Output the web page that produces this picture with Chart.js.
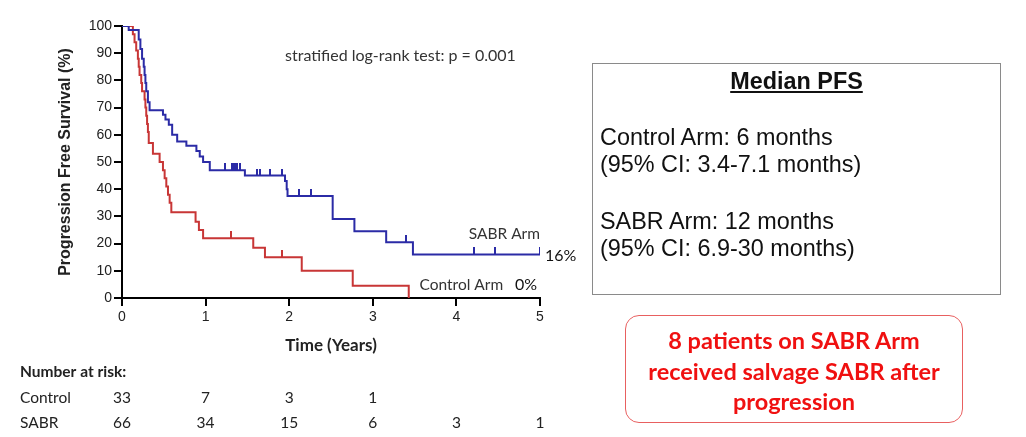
<!DOCTYPE html>
<html>
<head>
<meta charset="utf-8">
<script src="https://cdn.jsdelivr.net/npm/chart.js@4/dist/chart.umd.min.js"></script>
<style>
  html, body { margin: 0; padding: 0; background: #fff; }
  #wrap { position: relative; width: 1026px; height: 437px; overflow: hidden; }
  #c { position: absolute; left: 0; top: 0; }
  #median { position: absolute; left: 592px; top: 63px; width: 409px; height: 232px;
    border: 1.5px solid #8a8a8a; box-sizing: border-box; font-family: "Liberation Sans", Arial, sans-serif;
    color: #111; font-size: 23.4px; }
  #median .t { position: absolute; left: 0; right: 0; top: 4px; text-align: center; font-weight: bold;
    text-decoration: underline; font-size: 23.4px; }
  #median .l { position: absolute; left: 7px; white-space: nowrap; }
  #salvage { position: absolute; left: 625px; top: 315px; width: 338px; height: 108px;
    border: 1.5px solid #e86060; border-radius: 14px; box-sizing: border-box;
    font-family: Lato, "Open Sans", sans-serif; font-weight: bold; color: #f01010;
    font-size: 23.5px; text-align: center; line-height: 30.5px; padding-top: 9px; white-space: nowrap; }
</style>
</head>
<body>
<div id="wrap">
  <canvas id="c" width="1026" height="437"></canvas>
  <div id="median">
    <div class="t">Median PFS</div>
    <div class="l" style="top:60px">Control Arm: 6 months</div>
    <div class="l" style="top:87px">(95% CI: 3.4-7.1 months)</div>
    <div class="l" style="top:144px">SABR Arm: 12 months</div>
    <div class="l" style="top:171px">(95% CI: 6.9-30 months)</div>
  </div>
  <div id="salvage">8 patients on SABR Arm<br>received salvage SABR after<br>progression</div>
</div>
<script>
// ---- Data ----
const sabrTimes = [0, 0.08, 0.20, 0.22, 0.24, 0.26, 0.27, 0.28, 0.29, 0.31, 0.33, 0.49, 0.52, 0.56, 0.60, 0.66, 0.77, 0.89, 0.93, 0.97, 1.05, 1.47, 1.95, 1.97, 1.98, 2.52, 2.78, 3.16, 3.48, 5.0];
const sabrSurv  = [100, 98.5, 95, 91.5, 88, 85, 82, 79, 76, 72, 69, 67.4, 65.6, 63.7, 60, 57.5, 56, 54, 52, 50, 47, 45, 43, 40, 37.5, 29, 24.5, 20.5, 16, 16];
const ctrlTimes = [0, 0.13, 0.15, 0.17, 0.19, 0.20, 0.21, 0.23, 0.24, 0.27, 0.28, 0.29, 0.30, 0.31, 0.32, 0.37, 0.45, 0.49, 0.51, 0.53, 0.55, 0.57, 0.59, 0.88, 0.92, 0.97, 1.57, 1.71, 2.15, 2.76, 3.43];
const ctrlSurv  = [100, 97, 94, 91, 88, 85, 82, 79, 76, 73, 70, 67, 64, 61, 57, 53, 50, 47, 44, 41, 38, 35, 31.5, 28, 25, 22, 18.5, 15, 10, 4.5, 0];
const sabrCensorT = [1.23, 1.31, 1.33, 1.35, 1.37, 1.41, 1.61, 1.65, 1.77, 1.91, 2.12, 2.26, 3.40, 4.21, 4.46, 5.0];
const sabrCensorS = [47, 47, 47, 47, 47, 47, 45, 45, 45, 45, 37.5, 37.5, 20.5, 16, 16, 16];
const ctrlCensorT = [1.30, 1.91];
const ctrlCensorS = [22, 15];
const riskYears = [0, 1, 2, 3, 4, 5];
const riskControl = [33, 7, 3, 1, null, null];
const riskSabr = [66, 34, 15, 6, 3, 1];
const sabrFinal = "16%";
const ctrlFinal = "0%";

const BLUE = '#2b2ba6';
const RED = '#c83636';

function pts(xs, ys) { return xs.map((x, i) => ({ x: x, y: ys[i] })); }
function tickImg(color) {
  const c = document.createElement('canvas');
  c.width = 2; c.height = 14;
  const g = c.getContext('2d');
  g.fillStyle = color; g.fillRect(0, 0, 2, 7);
  return c;
}

const textPlugin = {
  id: 'texts',
  afterDraw(chart) {
    const ctx = chart.ctx, xs = chart.scales.x, ys = chart.scales.y;
    ctx.save();
    ctx.textBaseline = 'middle';
    ctx.fillStyle = '#333';
    ctx.font = '16px Lato, sans-serif';
    ctx.textAlign = 'left';
    ctx.fillText('stratified log-rank test: p = 0.001', xs.getPixelForValue(1.95), ys.getPixelForValue(89));
    ctx.font = '15.5px Lato, sans-serif';
    ctx.textAlign = 'right';
    ctx.fillText('SABR Arm', xs.getPixelForValue(5), ys.getPixelForValue(23.5));
    ctx.fillText('Control Arm', xs.getPixelForValue(4.56), ys.getPixelForValue(4.7));
    ctx.fillStyle = '#111';
    ctx.font = '16px Lato, sans-serif';
    ctx.textAlign = 'left';
    ctx.fillText(sabrFinal, xs.getPixelForValue(5) + 5, ys.getPixelForValue(16) + 1);
    ctx.fillText(ctrlFinal, xs.getPixelForValue(4.7), ys.getPixelForValue(4.7));
    // risk table
    ctx.fillStyle = '#222';
    ctx.font = 'bold 15.5px Lato, sans-serif';
    ctx.fillText('Number at risk:', 20, 372);
    ctx.font = '15.5px Lato, sans-serif';
    ctx.fillText('Control', 20, 398);
    ctx.fillText('SABR', 20, 423);
    ctx.textAlign = 'center';
    riskYears.forEach((yr, i) => {
      const px = xs.getPixelForValue(yr);
      if (riskControl[i] !== null) ctx.fillText(String(riskControl[i]), px, 398);
      if (riskSabr[i] !== null) ctx.fillText(String(riskSabr[i]), px, 423);
    });
    ctx.restore();
  }
};

new Chart(document.getElementById('c'), {
  type: 'line',
  data: {
    datasets: [
      { label: 'SABR', data: pts(sabrTimes, sabrSurv), borderColor: BLUE, borderWidth: 2, stepped: true, pointRadius: 0, fill: false },
      { label: 'Control', data: pts(ctrlTimes, ctrlSurv), borderColor: RED, borderWidth: 2, stepped: true, pointRadius: 0, fill: false },
      { type: 'scatter', label: 'SABR censored', data: pts(sabrCensorT, sabrCensorS), pointStyle: tickImg(BLUE), showLine: false },
      { type: 'scatter', label: 'Control censored', data: pts(ctrlCensorT, ctrlCensorS), pointStyle: tickImg(RED), showLine: false }
    ]
  },
  options: {
    responsive: false,
    animation: false,
    events: [],
    layout: { padding: { left: 52, right: 486, top: 26, bottom: 79 } },
    plugins: { legend: { display: false }, tooltip: { enabled: false } },
    scales: {
      x: {
        type: 'linear', min: 0, max: 5,
        ticks: { stepSize: 1, color: '#222', font: { family: 'Liberation Sans', size: 14 }, padding: 3 },
        grid: { drawOnChartArea: false, drawTicks: true, tickLength: 8, color: '#000', lineWidth: 2 },
        border: { color: '#000', width: 2 },
        title: { display: true, text: 'Time (Years)', color: '#222', font: { family: 'Lato', weight: 'bold', size: 17 }, padding: { top: 0, bottom: 2 } },
        afterFit(s) { s.height = 60; }
      },
      y: {
        min: 0, max: 100,
        ticks: { stepSize: 10, color: '#222', font: { family: 'Liberation Sans', size: 14 }, padding: 2 },
        grid: { drawOnChartArea: false, drawTicks: true, tickLength: 8, color: '#000', lineWidth: 2 },
        border: { color: '#000', width: 2 },
        title: { display: true, text: 'Progression Free Survival (%)', color: '#222', font: { family: 'Liberation Sans', weight: 'bold', size: 16 }, padding: { top: 4, bottom: 0 } },
        afterFit(s) { s.width = 70; }
      }
    }
  },
  plugins: [textPlugin]
});
</script>
</body>
</html>
